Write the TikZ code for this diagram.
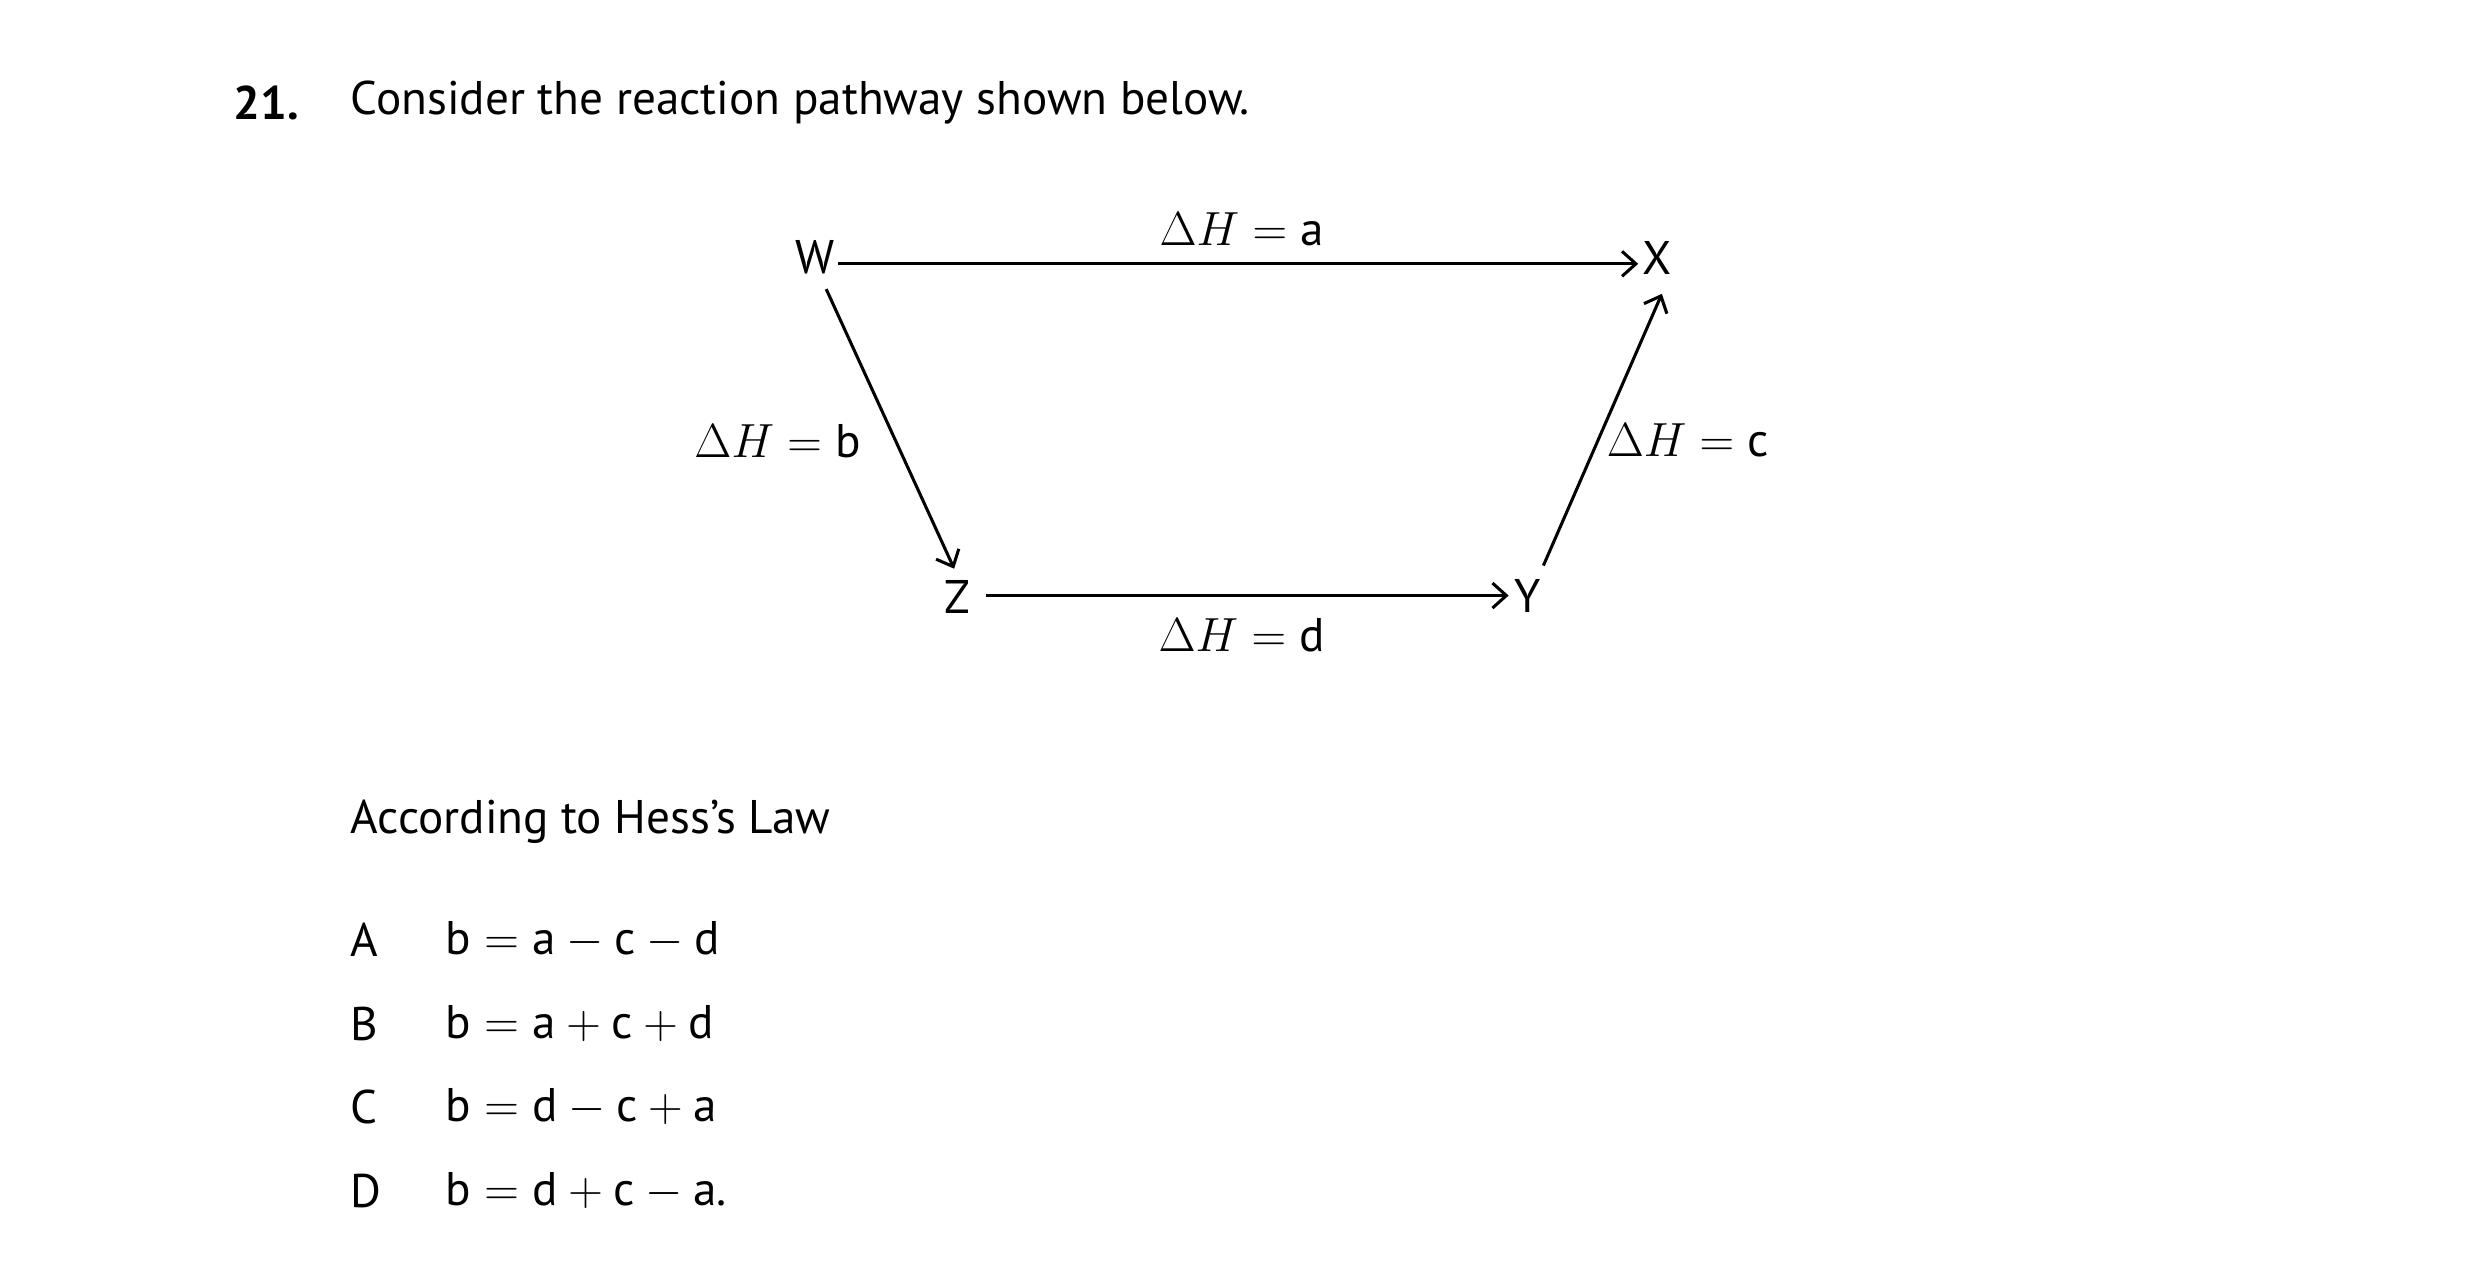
\documentclass[tikz,border=0pt]{standalone}
\usepackage{amsmath}
\usepackage{fontspec}
\setmainfont{PT Sans}
\usetikzlibrary{arrows.meta}
\begin{document}
\begin{tikzpicture}[x=0.02cm,y=-0.02cm,
  txt/.style={inner sep=1pt,font=\fontsize{17}{20}\selectfont},
  arr/.style={line width=1.1pt,-{Straight Barb[length=5pt,width=9pt,line width=1.1pt]}}]
\useasboundingbox (0,0) rectangle (1568,811);
\node[txt,anchor=west,font=\fontsize{17}{20}\selectfont\bfseries] (num) at (146,65) {21.};
\node[txt,anchor=west] (q) at (220,65) {Consider the reaction pathway shown below.};
\node[txt] (W) at (516,163) {W};
\node[txt] (X) at (1049,163) {X};
\node[txt] (Z) at (606,378) {Z};
\node[txt] (Y) at (967,377) {Y};
\node[txt] (la) at (786,145) {$\Delta H=\text{a}$};
\node[txt,anchor=east] (lb) at (547,279) {$\Delta H=\text{b}$};
\node[txt,anchor=west] (lc) at (1015,279) {$\Delta H=\text{c}$};
\node[txt] (ld) at (786,402) {$\Delta H=\text{d}$};
\draw[arr] (W.east|-0,167) -- (1037,167);
\draw[arr] (523,183) -- (604,360);
\draw[arr] (624,377) -- (955,377);
\draw[arr] (977,358) -- (1052,186);
\node[txt,anchor=west] (h) at (220,520) {According to Hess’s Law};
\node[txt,anchor=west] (A) at (220,595) {A};
\node[txt,anchor=west] (B) at (220,648) {B};
\node[txt,anchor=west] (C) at (220,701) {C};
\node[txt,anchor=west] (D) at (220,754) {D};
\node[txt,anchor=west] (fa) at (280,595) {$\text{b}=\text{a}-\text{c}-\text{d}$};
\node[txt,anchor=west] (fb) at (280,648) {$\text{b}=\text{a}+\text{c}+\text{d}$};
\node[txt,anchor=west] (fc) at (280,701) {$\text{b}=\text{d}-\text{c}+\text{a}$};
\node[txt,anchor=west] (fd) at (280,754) {$\text{b}=\text{d}+\text{c}-\text{a.}$};
\end{tikzpicture}
\end{document}
